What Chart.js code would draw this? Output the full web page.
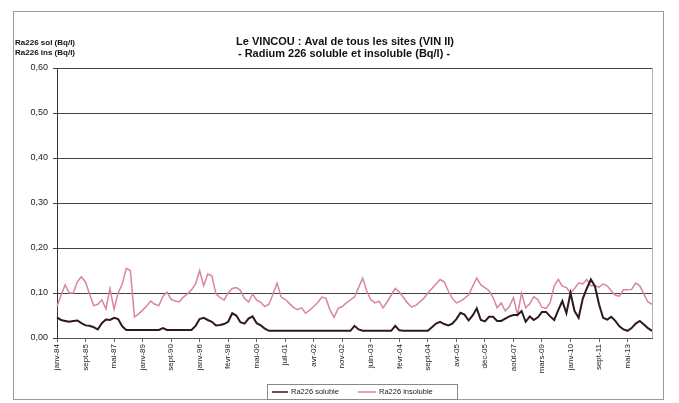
<!DOCTYPE html>
<html>
<head>
<meta charset="utf-8">
<script src="https://cdn.jsdelivr.net/npm/chart.js@4/dist/chart.umd.min.js"></script>
<style>
  html, body { margin: 0; padding: 0; background: #fff; }
  #wrap { width: 679px; height: 403px; }
</style>
</head>
<body>
<div id="wrap"><canvas id="chart" width="679" height="403"></canvas></div>
<script>
var titleLines = ["Le VINCOU : Aval de tous les sites (VIN II)", "- Radium 226 soluble et insoluble (Bq/l) -"];
var yTitleLines = ["Ra226 sol (Bq/l)", "Ra226 ins (Bq/l)"];

// one label every 7 samples
var tickLabels = ["janv-84", "sept-85", "mai-87", "janv-89", "sept-90", "janv-96", "févr-98",
  "mai-00", "juil-01", "avr-02", "nov-02", "juin-03", "févr-04", "sept-04", "avr-05",
  "déc-05", "août-07", "mars-09", "janv-10", "sept-11", "mai-13"];

var soluble = [
  0.046, 0.040, 0.038, 0.036, 0.038, 0.039, 0.033, 0.028, 0.027, 0.024,
  0.019, 0.033, 0.041, 0.040, 0.045, 0.042, 0.026, 0.018, 0.018, 0.018,
  0.018, 0.018, 0.018, 0.018, 0.018, 0.018, 0.022, 0.018, 0.018, 0.018,
  0.018, 0.018, 0.018, 0.018, 0.027, 0.042, 0.045, 0.040, 0.036, 0.028,
  0.029, 0.031, 0.036, 0.055, 0.050, 0.035, 0.032, 0.043, 0.048, 0.033,
  0.028, 0.021, 0.016, 0.016, 0.016, 0.016, 0.016, 0.016, 0.016, 0.016,
  0.016, 0.016, 0.016, 0.016, 0.016, 0.016, 0.016, 0.016, 0.016, 0.016,
  0.016, 0.016, 0.016, 0.027, 0.019, 0.016, 0.016, 0.016, 0.016, 0.016,
  0.016, 0.016, 0.016, 0.027, 0.017, 0.016, 0.016, 0.016, 0.016, 0.016,
  0.016, 0.016, 0.024, 0.032, 0.036, 0.031, 0.028, 0.032, 0.042, 0.056,
  0.052, 0.039, 0.050, 0.066, 0.040, 0.037, 0.047, 0.047, 0.038, 0.038,
  0.043, 0.048, 0.051, 0.051, 0.060, 0.036, 0.048, 0.040, 0.046, 0.058,
  0.058, 0.048, 0.040, 0.062, 0.082, 0.055, 0.100, 0.060, 0.045, 0.087,
  0.110, 0.130, 0.115, 0.075, 0.045, 0.041, 0.047, 0.038, 0.026, 0.019,
  0.016, 0.022, 0.032, 0.038, 0.030, 0.022, 0.016
];

var insoluble = [
  0.070, 0.095, 0.118, 0.100, 0.100, 0.125, 0.136, 0.124, 0.098, 0.072,
  0.075, 0.085, 0.065, 0.110, 0.064, 0.100, 0.120, 0.155, 0.150, 0.047,
  0.053, 0.062, 0.071, 0.082, 0.075, 0.072, 0.093, 0.102, 0.086, 0.082,
  0.080, 0.091, 0.098, 0.107, 0.120, 0.150, 0.116, 0.142, 0.138, 0.098,
  0.090, 0.084, 0.100, 0.110, 0.112, 0.106, 0.088, 0.080, 0.098, 0.084,
  0.079, 0.070, 0.075, 0.097, 0.122, 0.091, 0.086, 0.077, 0.068, 0.063,
  0.067, 0.055, 0.062, 0.070, 0.079, 0.091, 0.088, 0.062, 0.046, 0.066,
  0.070, 0.078, 0.085, 0.091, 0.112, 0.133, 0.104, 0.085, 0.078, 0.082,
  0.067, 0.080, 0.095, 0.110, 0.102, 0.090, 0.078, 0.069, 0.072, 0.080,
  0.088, 0.100, 0.110, 0.120, 0.130, 0.125, 0.105, 0.088, 0.078, 0.082,
  0.088, 0.096, 0.115, 0.133, 0.118, 0.112, 0.105, 0.090, 0.067, 0.078,
  0.060, 0.070, 0.090, 0.052, 0.100, 0.067, 0.076, 0.092, 0.085, 0.068,
  0.066, 0.078, 0.116, 0.130, 0.115, 0.112, 0.100, 0.110, 0.122, 0.120,
  0.130, 0.116, 0.116, 0.113, 0.120, 0.116, 0.105, 0.095, 0.093, 0.107,
  0.107, 0.108, 0.122, 0.116, 0.098, 0.080, 0.075
];

var categories = soluble.map(function (v, i) {
  return i % 7 === 0 ? tickLabels[i / 7] : '';
});

var FONT = '"Liberation Sans", Arial, sans-serif';

var decor = {
  id: 'decor',
  beforeDraw: function (chart) {
    var ctx = chart.ctx;
    ctx.save();
    ctx.fillStyle = '#fff';
    ctx.fillRect(0, 0, chart.width, chart.height);
    ctx.restore();
  },
  afterDraw: function (chart) {
    var ctx = chart.ctx;
    var a = chart.chartArea;
    ctx.save();

    // outer frame
    ctx.strokeStyle = '#9a9a9a';
    ctx.lineWidth = 1;
    ctx.strokeRect(13.5, 11.5, 650, 388);

    // right side of plot area
    ctx.strokeStyle = '#b0b0b0';
    ctx.beginPath();
    ctx.moveTo(a.right + 0.5, a.top);
    ctx.lineTo(a.right + 0.5, a.bottom);
    ctx.stroke();

    // title
    ctx.fillStyle = '#111';
    ctx.textAlign = 'center';
    ctx.textBaseline = 'middle';
    ctx.font = 'bold 11px ' + FONT;
    ctx.fillText(titleLines[0], 345, 42);
    ctx.fillText(titleLines[1], 344, 54);

    // y axis title
    ctx.textAlign = 'left';
    ctx.font = 'bold 8px ' + FONT;
    ctx.fillText(yTitleLines[0], 15, 43);
    ctx.fillText(yTitleLines[1], 15, 53);

    // legend
    var lx = 267, ly = 384, lw = 190, lh = 15;
    ctx.strokeStyle = '#888';
    ctx.strokeRect(lx + 0.5, ly + 0.5, lw, lh);
    var my = ly + lh / 2 + 0.5;
    var ds = chart.data.datasets;
    ctx.font = '7.5px ' + FONT;
    ctx.fillStyle = '#222';
    ctx.lineWidth = 1.5;
    ctx.strokeStyle = ds[0].borderColor;
    ctx.beginPath(); ctx.moveTo(272, my); ctx.lineTo(288, my); ctx.stroke();
    ctx.fillText(ds[0].label, 291, my);
    ctx.strokeStyle = ds[1].borderColor;
    ctx.beginPath(); ctx.moveTo(358, my); ctx.lineTo(376, my); ctx.stroke();
    ctx.fillText(ds[1].label, 379, my);

    ctx.restore();
  }
};

new Chart(document.getElementById('chart'), {
  type: 'line',
  data: {
    labels: categories,
    datasets: [
      {
        label: 'Ra226 soluble',
        data: soluble,
        borderColor: '#301820',
        borderWidth: 2,
        pointRadius: 0,
        tension: 0,
        fill: false
      },
      {
        label: 'Ra226 insoluble',
        data: insoluble,
        borderColor: '#d9869b',
        borderWidth: 1.5,
        pointRadius: 0,
        tension: 0,
        fill: false
      }
    ]
  },
  options: {
    responsive: false,
    animation: false,
    layout: { padding: { left: 0, right: 27, top: 68, bottom: 0 } },
    plugins: {
      legend: { display: false },
      title: { display: false },
      tooltip: { enabled: false }
    },
    scales: {
      x: {
        offset: false,
        afterFit: function (scale) { scale.height = 65; },
        border: { color: '#555', width: 1 },
        grid: {
          drawOnChartArea: false,
          tickLength: 4,
          color: function (c) { return c.index % 7 === 0 ? '#666' : 'rgba(0,0,0,0)'; }
        },
        ticks: {
          autoSkip: false,
          maxRotation: 90,
          minRotation: 90,
          padding: 2,
          color: '#222',
          font: { family: FONT, size: 8 },
          callback: function (v, i) { return categories[i]; }
        }
      },
      y: {
        min: 0,
        max: 0.6,
        afterFit: function (scale) { scale.width = 57; },
        border: { color: '#333', width: 1 },
        grid: { color: '#444', lineWidth: 1, drawTicks: true, tickLength: 4 },
        ticks: {
          stepSize: 0.1,
          padding: 5,
          color: '#222',
          font: { family: FONT, size: 9 },
          callback: function (v) { return v.toFixed(2).replace('.', ','); }
        }
      }
    }
  },
  plugins: [decor]
});
</script>
</body>
</html>
